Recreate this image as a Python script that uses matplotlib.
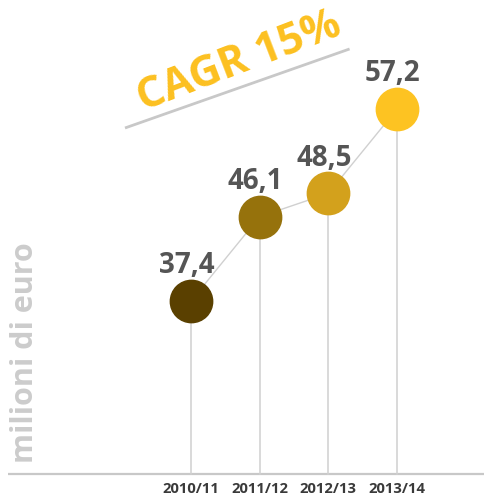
import matplotlib
matplotlib.use("Agg")
import matplotlib.pyplot as plt

periods = ["2010/11", "2011/12", "2012/13", "2013/14"]
values = [37.4, 46.1, 48.5, 57.2]
labels = ["37,4", "46,1", "48,5", "57,2"]
colors = ["#5a4000", "#96720c", "#d3a11c", "#fdc322"]
cagr_text = "CAGR 15%"
ylabel = "milioni di euro"

plt.rcParams['font.family'] = ['Open Sans', 'DejaVu Sans']

fig = plt.figure(figsize=(4.84, 4.95), dpi=100)
ax = fig.add_axes([0, 0, 1, 1])
ax.set_xlim(-2.78, 4.267)
ax.set_ylim(17.4, 68.45)
ax.axis('off')

base = 19.57
xs = list(range(len(values)))

# baseline
ax.plot([-2.66, 4.267], [base, base], color="#c8c8c8", lw=1.6, solid_capstyle='butt', zorder=1)
# stems
for x, v in zip(xs, values):
    ax.plot([x, x], [base, v], color="#d0d0d0", lw=1.1, zorder=1)
# connecting line
ax.plot(xs, values, color="#d0d0d0", lw=1.0, zorder=2)
# circles
for x, v, c in zip(xs, values, colors):
    ax.plot([x], [v], 'o', ms=30.5, color=c, markeredgecolor=c, zorder=3)
# value labels
for x, v, l in zip(xs, values, labels):
    ax.annotate(l, (x, v), xytext=(-3, 15), textcoords='offset points',
                ha='center', va='bottom', fontsize=20, fontweight='bold', color="#555555")
# tick labels
for x, p in zip(xs, periods):
    ax.annotate(p, (x, base), xytext=(0, -5.5), textcoords='offset points',
                ha='center', va='top', fontsize=10.6, fontweight='bold', color="#3a3a3a")

# CAGR line and text
ax.plot([-0.96, 2.31], [55.25, 63.4], color="#c8c8c8", lw=2.0, solid_capstyle='butt')
fig.text(239/484, 1-62/495, cagr_text, rotation=21, ha='center', va='center',
         fontsize=31, fontweight='bold', color="#fcc020", rotation_mode='anchor')

# y label
fig.text(25/484, 1-353/495, ylabel, rotation=90, ha='center', va='center',
         fontsize=22, fontweight='bold', color="#cccccc")

fig.savefig("out.png", dpi=100)
